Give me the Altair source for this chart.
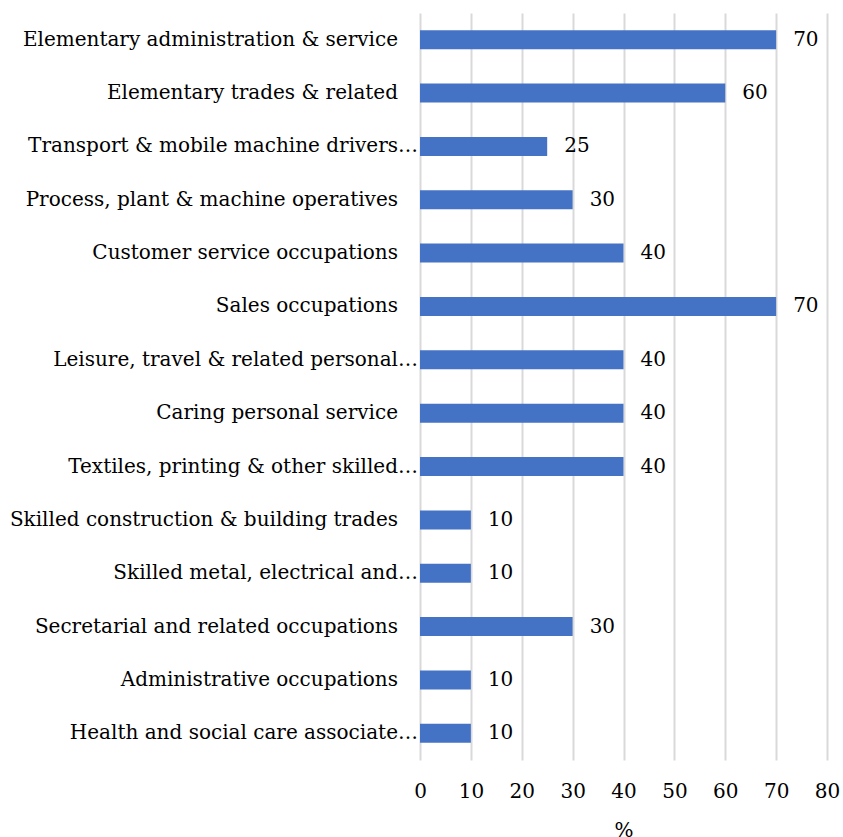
import altair as alt
import pandas as pd

# Occupation groups, top to bottom, and their share (%)
occupations = [
    "Elementary administration & service",
    "Elementary trades & related",
    "Transport & mobile machine drivers…",
    "Process, plant & machine operatives",
    "Customer service occupations",
    "Sales occupations",
    "Leisure, travel & related personal…",
    "Caring personal service",
    "Textiles, printing & other skilled…",
    "Skilled construction & building trades",
    "Skilled metal, electrical and…",
    "Secretarial and related occupations",
    "Administrative occupations",
    "Health and social care associate…",
]
values = [70, 60, 25, 30, 40, 70, 40, 40, 40, 10, 10, 30, 10, 10]

df = pd.DataFrame({"occupation": occupations, "value": values})

FONT = "DejaVu Serif"
FS = 20

y_enc = alt.Y("occupation:N", sort=occupations, title=None,
              axis=alt.Axis(labels=False, ticks=False, domain=False, grid=False))

base = alt.Chart(df).encode(y=y_enc)

bars = base.mark_bar(size=19, color="#4472C4").encode(
    x=alt.X("value:Q", title="%",
            scale=alt.Scale(domain=[0, 80]),
            axis=alt.Axis(values=list(range(0, 90, 10)), labelFont=FONT, labelFontSize=FS,
                          labelColor="#000000", labelFlush=False,
                          titleFont=FONT, titleFontSize=FS,
                          titleFontWeight="normal", titleColor="#000000",
                          titlePadding=19, labelPadding=21, ticks=False, domain=False,
                          grid=True, gridColor="#d9d9d9", gridWidth=2)),
)

values_text = base.mark_text(align="left", baseline="middle", dx=17, font=FONT,
                             fontSize=FS, color="#000000").encode(
    x="value:Q",
    text="value:Q",
)

# Category names: shortened names run up to the axis, full names keep a gap
short_names = base.mark_text(align="right", baseline="middle", font=FONT,
                             fontSize=FS, color="#000000").encode(
    x=alt.value(-2), text="occupation:N",
).transform_filter("indexof(datum.occupation, '…') >= 0")

full_names = base.mark_text(align="right", baseline="middle", font=FONT,
                            fontSize=FS, color="#000000").encode(
    x=alt.value(-22), text="occupation:N",
).transform_filter("indexof(datum.occupation, '…') < 0")

chart = (bars + values_text + short_names + full_names).properties(
    width=407,
    height=747,
    autosize=alt.AutoSizeParams(type="none"),
    padding={"left": 420, "top": 13, "right": 16, "bottom": 77},
).configure_view(stroke=None)

chart.save("out.html", embed_options={"renderer": "svg", "actions": False})
